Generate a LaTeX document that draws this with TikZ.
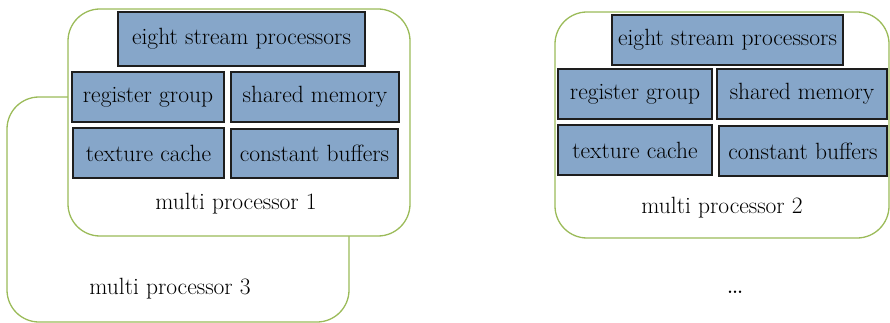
\documentclass[tikz,border=0pt]{standalone}
\usetikzlibrary{positioning}
\definecolor{unitfill}{HTML}{86A6C9}
\definecolor{unitedge}{HTML}{1E1E1E}
\definecolor{mpedge}{HTML}{9BBB59}
\tikzset{
  unit/.style={draw=unitedge, fill=unitfill, line width=1.4pt, inner sep=0pt,
    font=\fontsize{23.5}{28}\selectfont},
  mpframe/.style={draw=mpedge, fill=white, line width=1.3pt, rounded corners=32pt},
  mplabel/.style={inner sep=0pt, font=\fontsize{23.5}{28}\selectfont},
}
% place a unit box by its corners (x1,y1) (x2,y2), in pixel units
\newcommand{\unitbox}[6]{%
  \node[unit, minimum width={(#4-#2)*1pt}, minimum height={(#5-#3)*1pt}]
    (#1) at ({(#2+#4)/2},{(#3+#5)/2}) {#6};}
\begin{document}
\begin{tikzpicture}[x=1pt, y=-1pt]
  \useasboundingbox (0,0) rectangle (890,323);

  % multi processor 3 (behind)
  \draw[mpframe] (7,97) rectangle (349,322);
  \node[mplabel] (mp3) at (170,289) {multi processor 3};

  % multi processor 1
  \draw[mpframe] (68,9) rectangle (410,236);
  \unitbox{esp1}{118}{12}{365}{66}{eight stream processors}
  \unitbox{reg1}{72}{72}{224}{122}{register group}
  \unitbox{shm1}{231}{72}{399}{122}{shared memory}
  \unitbox{tex1}{73}{128}{224}{178}{texture cache}
  \unitbox{cb1}{231}{129}{398}{178}{constant buffers}
  \node[mplabel] (mp1) at (236,204) {multi processor 1};

  % multi processor 2
  \draw[mpframe] (555,12) rectangle (889,238);
  \unitbox{esp2}{612}{15}{843}{65}{eight stream processors}
  \unitbox{reg2}{558}{69}{712}{119}{register group}
  \unitbox{shm2}{717}{69}{887}{119}{shared memory}
  \unitbox{tex2}{558}{125}{712}{175}{texture cache}
  \unitbox{cb2}{719}{126}{887}{176}{constant buffers}
  \node[mplabel] (mp2) at (722,208) {multi processor 2};

  \node[mplabel, font=\fontsize{30}{34}\selectfont] (more) at (735,292) {\dots};
\end{tikzpicture}
\end{document}
